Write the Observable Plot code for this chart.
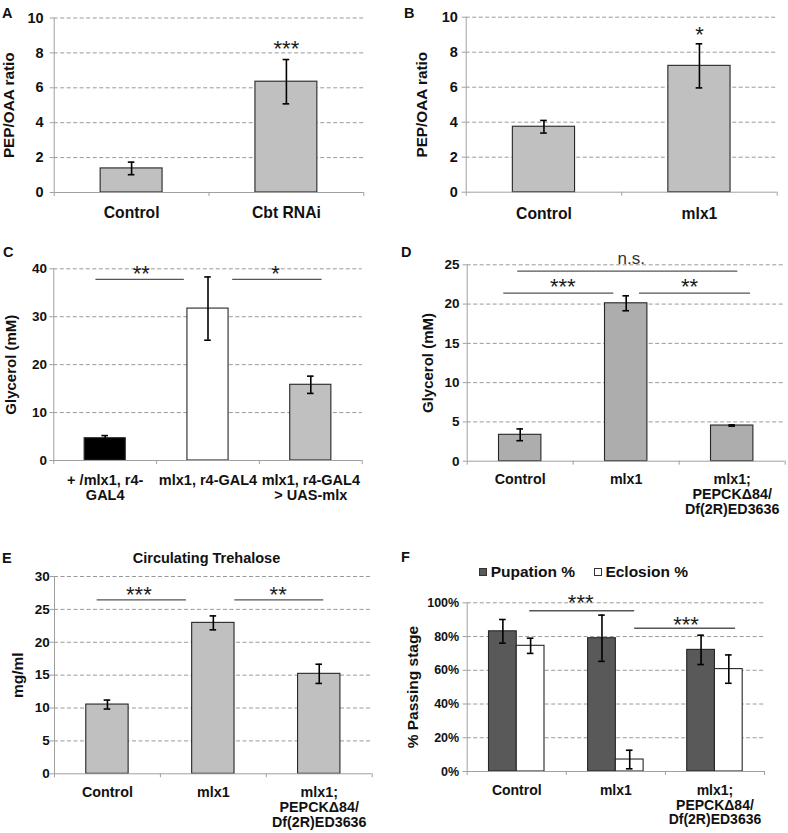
<!DOCTYPE html>
<html><head><meta charset="utf-8">
<script src="https://cdn.jsdelivr.net/npm/d3@7"></script>
<script src="https://cdn.jsdelivr.net/npm/@observablehq/plot@0.6"></script>
<style>
body{margin:0;background:#fff;}
#root{position:relative;width:788px;height:833px;overflow:hidden;background:#fff;font-family:"Liberation Sans",Arial,sans-serif;color:#111;}
.lbl{position:absolute;font-weight:bold;line-height:1;white-space:nowrap;}
.sq{position:absolute;width:8px;height:8px;box-sizing:border-box;border:1px solid #333;}
</style></head><body><div id="root"></div>
<script>
// ---------- DATA ----------
// Panel A
const catsA = ["Control", "Cbt RNAi"];
const valsA = [1.38, 6.35];
const errA = [0.36, 1.27];
const ticksA = [0, 2, 4, 6, 8, 10];
const starsA = [{x: 1.5, y: 8.52, text: "***"}];
const sigA = [];
// Panel B
const catsB = ["Control", "mlx1"];
const valsB = [3.74, 7.22];
const errB = [0.36, 1.26];
const ticksB = [0, 2, 4, 6, 8, 10];
const starsB = [{x: 1.5, y: 9.3, text: "*"}];
const sigB = [];
// Panel C
const catsC = ["+ /mlx1, r4-\nGAL4", "mlx1, r4-GAL4", "mlx1, r4-GAL4\n> UAS-mlx"];
const valsC = [4.65, 31.7, 15.8];
const errC = [0.55, 6.6, 1.8];
const fillsC = ["#000000", "#ffffff", "#c0c0c0"];
const ticksC = [0, 10, 20, 30, 40];
const sigC = [{x1: 0.41, x2: 1.27, y: 37.8}, {x1: 1.74, x2: 2.61, y: 37.8}];
const starsC = [{x: 0.851, y: 40.0, text: "**"}, {x: 2.157, y: 40.0, text: "*"}];
// Panel D
const catsD = ["Control", "mlx1", "mlx1;\nPEPCK\u039484/\nDf(2R)ED3636"];
const valsD = [3.36, 20.1, 4.54];
const errD = [0.75, 0.95, 0.08];
const ticksD = [0, 5, 10, 15, 20, 25];
const sigD = [{x1: 0.477, x2: 2.553, y: 24.19}, {x1: 0.345, x2: 1.383, y: 21.39}, {x1: 1.625, x2: 2.673, y: 21.39}];
const starsD = [{x: 1.547, y: 25.67, text: "n.s."}, {x: 0.902, y: 22.84, text: "***"}, {x: 2.097, y: 22.84, text: "**"}];
// Panel E
const catsE = ["Control", "mlx1", "mlx1;\nPEPCK\u039484/\nDf(2R)ED3636"];
const valsE = [10.53, 22.95, 15.2];
const errE = [0.68, 1.06, 1.46];
const ticksE = [0, 5, 10, 15, 20, 25, 30];
const sigE = [{x1: 0.403, x2: 1.246, y: 26.46}, {x1: 1.703, x2: 2.543, y: 26.46}];
const starsE = [{x: 0.797, y: 28.07, text: "***"}, {x: 2.112, y: 28.07, text: "**"}];
// Panel F
const catsF = ["Control", "mlx1", "mlx1;\nPEPCK\u039484/\nDf(2R)ED3636"];
const pupationF = [83.1, 79.0, 72.1];
const pupationErrF = [7.0, 13.7, 8.7];
const eclosionF = [74.5, 7.1, 60.7];
const eclosionErrF = [4.5, 5.5, 8.4];
const ticksF = [0, 20, 40, 60, 80, 100];
const sigF = [{x1: 0.631, x2: 1.69, y: 95.3}, {x1: 1.69, x2: 2.708, y: 84.9}];
const starsF = [{x: 1.145, y: 103.4, text: "***"}, {x: 2.208, y: 90.4, text: "***"}];

// ---------- DRAWING ----------
const root = document.getElementById("root");
const FONT = "'Liberation Sans', Arial, sans-serif";
const AXIS = "#a0a0a0";
const BAR = [0.3, 0.7];

function panel(o) {
  const n = o.cats.length;
  const rows = [];
  o.series.forEach(s => s.values.forEach((v, i) => rows.push({
    x1: i + s.band[0], x2: i + s.band[1], v, e: s.errors[i],
    fill: Array.isArray(s.fill) ? s.fill[i] : s.fill
  })));
  const mid = d => (d.x1 + d.x2) / 2;
  const caps = rows.flatMap(d => [{c: mid(d), y: d.v + d.e}, {c: mid(d), y: d.v - d.e}]);
  const starT = o.stars.filter(s => s.text.includes("*"));
  const otherT = o.stars.filter(s => !s.text.includes("*"));
  const svg = Plot.plot({
    width: o.w, height: o.h,
    marginTop: o.m[0], marginRight: o.m[1], marginBottom: o.m[2], marginLeft: o.m[3],
    x: {domain: [0, n]},
    y: {domain: [0, o.max]},
    color: {type: "identity"},
    style: {fontFamily: FONT, background: "transparent", overflow: "visible"},
    marks: [
      Plot.gridY({ticks: o.ticks.filter(t => t !== 0), stroke: "#9a9a9a", strokeOpacity: 1, strokeWidth: 1, strokeDasharray: "4,2.5"}),
      Plot.rect(rows, {x1: "x1", x2: "x2", y1: () => 0, y2: "v", fill: "fill", stroke: "#262626", strokeWidth: 1.1}),
      Plot.ruleX(rows, {x: mid, y1: d => d.v - d.e, y2: d => d.v + d.e, stroke: "#000", strokeWidth: 1.6}),
      Plot.ruleY(caps, {y: "y", x1: "c", x2: "c", insetLeft: -3.3, insetRight: -3.3, stroke: "#000", strokeWidth: 1.6}),
      Plot.ruleX([0], {stroke: AXIS, strokeWidth: 1}),
      Plot.ruleY([0], {stroke: AXIS, strokeWidth: 1}),
      Plot.axisY({ticks: o.ticks, tickSize: 4, tickPadding: o.tickPad, tickFormat: o.tickFormat, fontSize: o.tickSize, fontWeight: "bold", stroke: AXIS, strokeOpacity: 1, fill: "#111", label: null}),
      Plot.axisX({ticks: d3.range(n + 1), tickSize: 4, tickFormat: () => "", stroke: AXIS, strokeOpacity: 1, label: null}),
      Plot.axisX({ticks: d3.range(n).map(i => i + 0.5), tickSize: 0, tickPadding: o.catPad, tickFormat: v => o.cats[Math.floor(v)], fontSize: o.catSize, fontWeight: "bold", fill: "#111", lineHeight: 1.05, label: null}),
      Plot.text([o.yLabel], {frameAnchor: "left", textAnchor: "middle", rotate: -90, dx: -o.labelOffset, lineAnchor: "top", fontSize: o.labelSize, fontWeight: "bold", fill: "#111"}),
      Plot.ruleY(o.sig, {y: "y", x1: "x1", x2: "x2", stroke: "#555", strokeWidth: 1.3}),
      Plot.text(starT, {x: "x", y: "y", text: "text", fontSize: 22, dy: 0.255 * 22, fill: "#1a1a1a"}),
      Plot.text(otherT, {x: "x", y: "y", text: "text", fontSize: 17, dy: -1, fill: "#333"})
    ]
  });
  svg.style.position = "absolute";
  svg.style.left = o.left + "px";
  svg.style.top = o.top + "px";
  root.appendChild(svg);
}

panel({left: 0, top: 0, w: 394, h: 215, m: [17.5, 30.7, 23, 53.7], max: 10, ticks: ticksA,
  cats: catsA, series: [{values: valsA, errors: errA, band: BAR, fill: "#c0c0c0"}],
  sig: sigA, stars: starsA, yLabel: "PEP/OAA ratio", labelOffset: 51, labelSize: 15.3,
  tickSize: 14.5, tickPad: 6.5, catSize: 15.7, catPad: 14});

panel({left: 394, top: 0, w: 394, h: 215, m: [16.7, 11.3, 23.3, 71.7], max: 10, ticks: ticksB,
  cats: catsB, series: [{values: valsB, errors: errB, band: BAR, fill: "#c0c0c0"}],
  sig: sigB, stars: starsB, yLabel: "PEP/OAA ratio", labelOffset: 50, labelSize: 15.3,
  tickSize: 14.5, tickPad: 4.4, catSize: 15.7, catPad: 15});

panel({left: 0, top: 215, w: 394, h: 290, m: [53.3, 32.3, 45, 53.3], max: 40, ticks: ticksC,
  cats: catsC, series: [{values: valsC, errors: errC, band: BAR, fill: fillsC}],
  sig: sigC, stars: starsC, yLabel: "Glycerol (mM)", labelOffset: 48.3, labelSize: 15,
  tickSize: 13.5, tickPad: 2.7, catSize: 14.5, catPad: 13.3});

panel({left: 394, top: 215, w: 394, h: 290, m: [49.3, 3.3, 44.3, 72.7], max: 25, ticks: ticksD,
  cats: catsD, series: [{values: valsD, errors: errD, band: BAR, fill: "#adadad"}],
  sig: sigD, stars: starsD, yLabel: "Glycerol (mM)", labelOffset: 44.4, labelSize: 15,
  tickSize: 13.5, tickPad: 3.7, catSize: 14.3, catPad: 12.6});

panel({left: 0, top: 505, w: 394, h: 328, m: [71, 22.3, 59.7, 54], max: 30, ticks: ticksE,
  cats: catsE, series: [{values: valsE, errors: errE, band: BAR, fill: "#c0c0c0"}],
  sig: sigE, stars: starsE, yLabel: "mg/ml", labelOffset: 42.3, labelSize: 15.5,
  tickSize: 13.5, tickPad: 0.7, catSize: 14.3, catPad: 12.2});

panel({left: 394, top: 505, w: 394, h: 328, m: [97.3, 24, 62, 72.7], max: 100, ticks: ticksF,
  cats: catsF, series: [
    {values: pupationF, errors: pupationErrF, band: [0.22, 0.5], fill: "#595959"},
    {values: eclosionF, errors: eclosionErrF, band: [0.5, 0.78], fill: "#ffffff"}],
  sig: sigF, stars: starsF, yLabel: "% Passing stage", labelOffset: 60, labelSize: 15.5,
  tickSize: 12.5, tickPad: 4, tickFormat: d => d + "%", catSize: 14, catPad: 13});

// ---------- TEXT OVERLAYS ----------
function label(text, left, top, size, extra) {
  const d = document.createElement("div");
  d.className = "lbl";
  d.textContent = text;
  d.style.left = left + "px";
  d.style.top = top + "px";
  d.style.fontSize = size + "px";
  if (extra) Object.assign(d.style, extra);
  root.appendChild(d);
  return d;
}
const letters = ["A", "B", "C", "D", "E", "F"];
const letterPos = [[2, 6], [404, 6], [3, 245], [401, 245], [2, 551.4], [401, 549.8]];
letters.forEach((l, i) => label(l, letterPos[i][0], letterPos[i][1], 14.5));
label("Circulating Trehalose", 206.5, 551, 14.5, {transform: "translateX(-50%)"});

// Legend for F
const legendNames = ["Pupation %", "Eclosion %"];
const legendFills = ["#595959", "#ffffff"];
const legendX = [479.3, 594];
legendNames.forEach((name, i) => {
  const s = document.createElement("div");
  s.className = "sq";
  s.style.left = legendX[i] + "px";
  s.style.top = "568.3px";
  s.style.background = legendFills[i];
  root.appendChild(s);
  label(name, legendX[i] + 11.4, 563.6, 15.5);
});
</script></body></html>
